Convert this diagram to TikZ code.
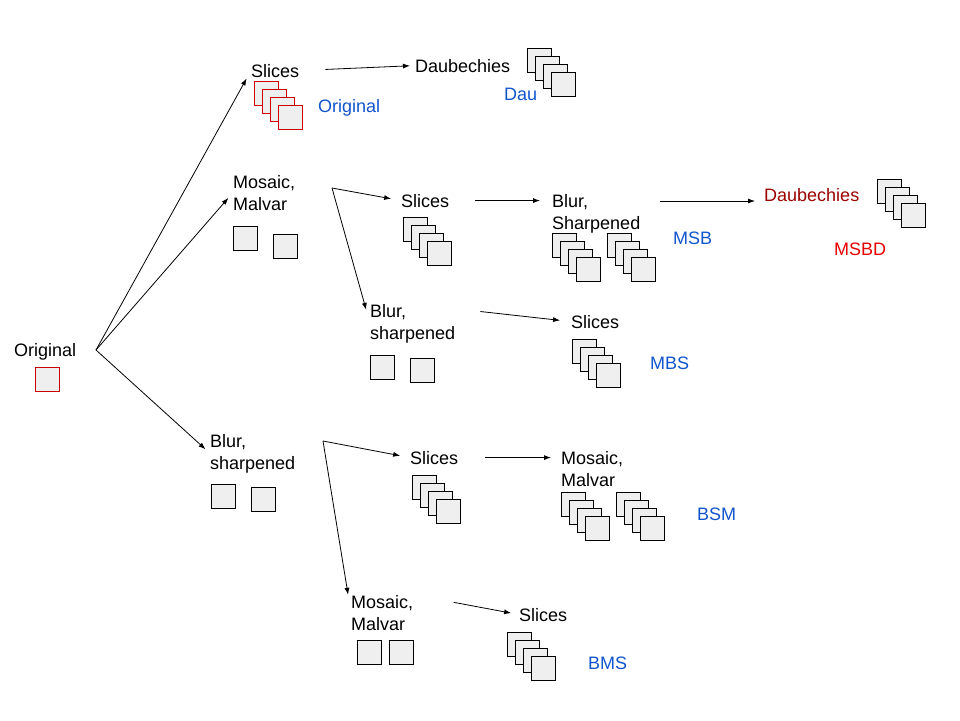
\documentclass[tikz,border=0pt]{standalone}
\usepackage{fontspec}
\setmainfont{Liberation Sans}
\usetikzlibrary{arrows.meta}

\definecolor{labelblue}{HTML}{1155CC}
\definecolor{daubred}{HTML}{990000}
\definecolor{tagred}{HTML}{E50000}
\definecolor{sqred}{HTML}{CC0000}
\definecolor{sqfill}{HTML}{EFEFEF}

% four overlapping squares, first one with top left corner at (#2,#3)
\newcommand{\slicestack}[3][black]{%
  \foreach \k in {0,...,3}{\draw[sq,draw=#1] ({#2+8*\k},{#3+8*\k}) rectangle ++(24,24);}}

\begin{document}
\begin{tikzpicture}[
    x=1pt,y=-1pt,
    arr/.style={-{Latex[length=7pt,width=5pt]},line width=0.8pt},
    lbl/.style={anchor=base west,inner sep=0pt,font=\fontsize{18}{22}\selectfont,align=left},
    tag/.style={lbl,text=labelblue},
    sq/.style={fill=sqfill,draw=black,line width=0.9pt}
]
    \useasboundingbox (0,0) rectangle (960,720);

    % Labels (two-line ones sit on the baseline of their last line)
    \node[lbl] (orig) at (14,356) {Original};
    \node[lbl] (slicesO) at (251,77) {Slices};
    \node[tag] (tagO) at (318,112) {Original};
    \node[lbl] (daubA) at (415,72) {Daubechies};
    \node[tag] (tagDau) at (504,100) {Dau};
    \node[lbl] (mosaicA) at (233,210) {Mosaic,\\Malvar};
    \node[lbl] (slicesB) at (401,207) {Slices};
    \node[lbl] (blurA) at (552,229) {Blur,\\Sharpened};
    \node[tag] (tagMSB) at (673,244) {MSB};
    \node[lbl,text=daubred] (daubB) at (764,201) {Daubechies};
    \node[lbl,text=tagred] (tagMSBD) at (834,255) {MSBD};
    \node[lbl] (blurB) at (370,339) {Blur,\\sharpened};
    \node[lbl] (slicesC) at (571,328) {Slices};
    \node[tag] (tagMBS) at (650,369) {MBS};
    \node[lbl] (blurC) at (210,469) {Blur,\\sharpened};
    \node[lbl] (slicesD) at (410,464) {Slices};
    \node[lbl] (mosaicC) at (561,486) {Mosaic,\\Malvar};
    \node[tag] (tagBSM) at (697,520) {BSM};
    \node[lbl] (mosaicD) at (351,630) {Mosaic,\\Malvar};
    \node[lbl] (slicesE) at (519,621) {Slices};
    \node[tag] (tagBMS) at (588,669) {BMS};

    % Images
    \draw[sq,draw=sqred,line width=1pt] (35,367) rectangle ++(24,24);
    \slicestack[sqred]{254}{81}
    \slicestack{527}{48}
    \draw[sq] (233,226) rectangle ++(24,24);
    \draw[sq] (273,234) rectangle ++(24,24);
    \slicestack{403}{217}
    \slicestack{552}{233}
    \slicestack{607}{233}
    \slicestack{877}{179}
    \draw[sq] (370,355) rectangle ++(24,24);
    \draw[sq] (410,358) rectangle ++(24,24);
    \slicestack{572}{339}
    \draw[sq] (211,484) rectangle ++(24,24);
    \draw[sq] (251,487) rectangle ++(24,24);
    \slicestack{412}{475}
    \slicestack{561}{492}
    \slicestack{616}{492}
    \draw[sq] (357,640) rectangle ++(24,24);
    \draw[sq] (389,640) rectangle ++(24,24);
    \slicestack{507}{632}

    % Branch points
    \coordinate (forkO) at (96,350);
    \coordinate (forkM) at (332,188);
    \coordinate (forkB) at (323,441);

    % Arrows
    \draw[arr,shorten >=9pt] (forkO) -- (slicesO.west);
    \draw[arr,shorten >=7pt] (forkO) -- (mosaicA.west);
    \draw[arr,shorten >=6pt] (forkO) -- (blurC.west);
    \draw[arr,shorten <=26pt,shorten >=5pt] (slicesO.east) -- (daubA.west);
    \draw[arr,shorten >=10pt] (forkM) -- (slicesB.west);
    \draw[arr,shorten >=14pt] (forkM) -- (blurB.west);
    \draw[arr,shorten <=26pt,shorten >=12pt] (slicesB.east) -- (slicesB.east -| blurA.west);
    \draw[arr,shorten <=20pt,shorten >=9pt] (daubB.base west -| blurA.east) -- (daubB.base west);
    \draw[arr,shorten <=25pt,shorten >=11pt] ([yshift=-5pt]blurB.north east) -- (slicesC.west);
    \draw[arr,shorten >=10pt] (forkB) -- (slicesD.west);
    \draw[arr,shorten >=18pt] (forkB) -- (mosaicD.west);
    \draw[arr,shorten <=27pt,shorten >=10pt] (slicesD.east) -- (slicesD.east -| mosaicC.west);
    \draw[arr,shorten <=41pt,shorten >=8pt] (mosaicD.north east) -- (slicesE.west);
\end{tikzpicture}
\end{document}
